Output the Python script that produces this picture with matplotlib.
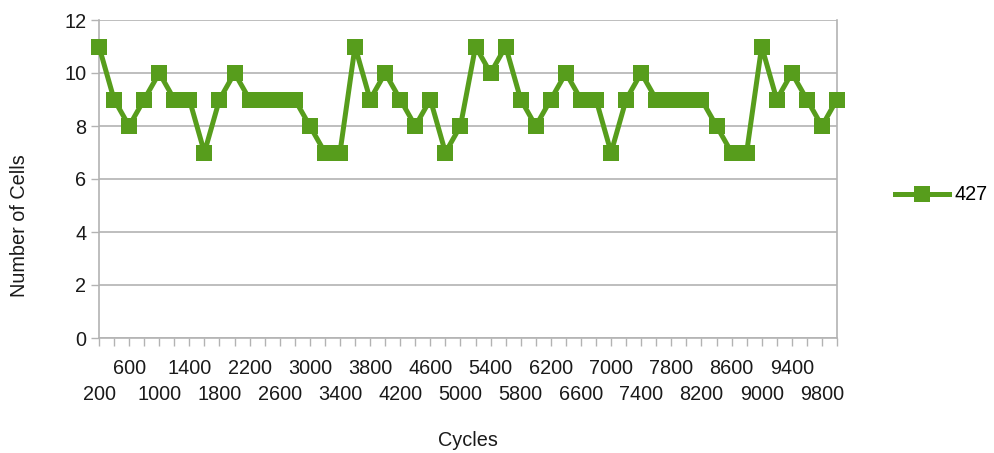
import matplotlib
matplotlib.use('Agg')
import matplotlib.pyplot as plt

plt.rcParams['font.family'] = ['Liberation Sans', 'DejaVu Sans']

CYCLES = [200, 400, 600, 800, 1000, 1200, 1400, 1600, 1800, 2000,
          2200, 2400, 2600, 2800, 3000, 3200, 3400, 3600, 3800, 4000,
          4200, 4400, 4600, 4800, 5000, 5200, 5400, 5600, 5800, 6000,
          6200, 6400, 6600, 6800, 7000, 7200, 7400, 7600, 7800, 8000,
          8200, 8400, 8600, 8800, 9000, 9200, 9400, 9600, 9800, 10000]
CELLS = [11, 9, 8, 9, 10, 9, 9, 7, 9, 10,
         9, 9, 9, 9, 8, 7, 7, 11, 9, 10,
         9, 8, 9, 7, 8, 11, 10, 11, 9, 8,
         9, 10, 9, 9, 7, 9, 10, 9, 9, 9,
         9, 8, 7, 7, 11, 9, 10, 9, 8, 9]
SERIES_NAME = '427'
Y_TICKS = [0, 2, 4, 6, 8, 10, 12]

GREEN = '#579d1c'
GRID = '#b3b3b3'
TXT = '#1a1a1a'
FS = 14.3

fig = plt.figure(figsize=(9.95, 4.53), dpi=100)
ax = fig.add_axes([99 / 995, 1 - 338 / 453, (837 - 99) / 995, (338 - 20) / 453])

pos = list(range(len(CYCLES)))
line, = ax.plot(pos, CELLS, color=GREEN, lw=3.6, marker='s', ms=11.5,
                markeredgewidth=0, label=SERIES_NAME, clip_on=False, zorder=3)

ax.set_xlim(0, len(CYCLES) - 1)
ax.set_ylim(0, 12)
ax.set_yticks(Y_TICKS)
ax.set_yticklabels([str(v) for v in Y_TICKS], fontsize=FS, color=TXT)
ax.yaxis.grid(True, color=GRID, lw=1.2)
ax.set_axisbelow(True)

# every category gets a tick, every second one a label, in two staggered rows
top_labels = [str(c) if i % 4 == 2 else '' for i, c in enumerate(CYCLES)]
bottom_pos = [p for p in pos if p % 4 == 0]
bottom_labels = [str(CYCLES[p]) for p in bottom_pos]

ax.set_xticks(pos)
ax.set_xticklabels(top_labels, fontsize=FS, color=TXT)
ax.xaxis.remove_overlapping_locs = False
ax.set_xticks(bottom_pos, minor=True)
ax.set_xticklabels(bottom_labels, minor=True, fontsize=FS, color=TXT)

ax.tick_params(axis='both', which='major', length=6, width=1, color=GRID)
ax.tick_params(axis='x', which='major', pad=9)
ax.tick_params(axis='x', which='minor', length=0, pad=34)
ax.tick_params(axis='y', pad=3)

for side in ['left', 'bottom', 'right']:
    ax.spines[side].set_color(GRID)
    ax.spines[side].set_linewidth(1.2)
ax.spines['top'].set_visible(False)

fig.text(468 / 995, 1 - 440 / 453, 'Cycles', fontsize=FS, ha='center', va='center', color=TXT)
fig.text(20 / 995, 1 - 226 / 453, 'Number of Cells', fontsize=FS, rotation=90,
         ha='center', va='center', color=TXT)

fig.legend(handles=[line], loc='center left', bbox_to_anchor=(885 / 995, 1 - 195 / 453),
           frameon=False, fontsize=FS, handlelength=2.7, handletextpad=0.3, borderpad=0)

fig.savefig('out.png', dpi=100)
